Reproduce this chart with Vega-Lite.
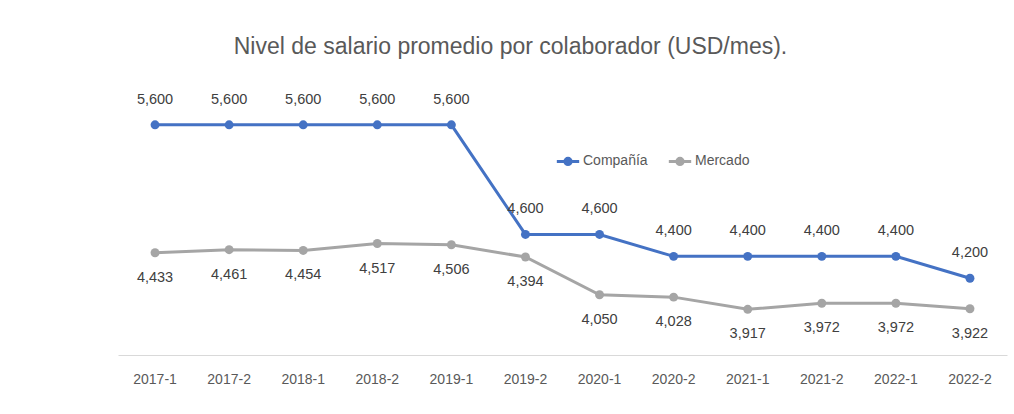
{
  "$schema": "https://vega.github.io/schema/vega-lite/v6.json",
  "autosize": {"type": "none"},
  "width": 889,
  "height": 274,
  "padding": {"left": 118, "top": 81, "right": 7, "bottom": 59},
  "background": "white",
  "config": {"view": {"stroke": null}, "font": "Liberation Sans"},
  "title": {
    "text": "Nivel de salario promedio por colaborador (USD/mes).",
    "fontSize": 23,
    "fontWeight": "normal",
    "color": "#595959",
    "font": "Liberation Sans",
    "anchor": "middle",
    "dx": -52,
    "offset": 22
  },
  "data": {
    "values": [
      {"periodo": "2017-1", "serie": "Compañía", "valor": 5600},
      {"periodo": "2017-2", "serie": "Compañía", "valor": 5600},
      {"periodo": "2018-1", "serie": "Compañía", "valor": 5600},
      {"periodo": "2018-2", "serie": "Compañía", "valor": 5600},
      {"periodo": "2019-1", "serie": "Compañía", "valor": 5600},
      {"periodo": "2019-2", "serie": "Compañía", "valor": 4600},
      {"periodo": "2020-1", "serie": "Compañía", "valor": 4600},
      {"periodo": "2020-2", "serie": "Compañía", "valor": 4400},
      {"periodo": "2021-1", "serie": "Compañía", "valor": 4400},
      {"periodo": "2021-2", "serie": "Compañía", "valor": 4400},
      {"periodo": "2022-1", "serie": "Compañía", "valor": 4400},
      {"periodo": "2022-2", "serie": "Compañía", "valor": 4200},
      {"periodo": "2017-1", "serie": "Mercado", "valor": 4433},
      {"periodo": "2017-2", "serie": "Mercado", "valor": 4461},
      {"periodo": "2018-1", "serie": "Mercado", "valor": 4454},
      {"periodo": "2018-2", "serie": "Mercado", "valor": 4517},
      {"periodo": "2019-1", "serie": "Mercado", "valor": 4506},
      {"periodo": "2019-2", "serie": "Mercado", "valor": 4394},
      {"periodo": "2020-1", "serie": "Mercado", "valor": 4050},
      {"periodo": "2020-2", "serie": "Mercado", "valor": 4028},
      {"periodo": "2021-1", "serie": "Mercado", "valor": 3917},
      {"periodo": "2021-2", "serie": "Mercado", "valor": 3972},
      {"periodo": "2022-1", "serie": "Mercado", "valor": 3972},
      {"periodo": "2022-2", "serie": "Mercado", "valor": 3922}
    ]
  },
  "encoding": {
    "x": {
      "field": "periodo",
      "type": "ordinal",
      "sort": null,
      "scale": {"paddingInner": 0, "paddingOuter": 0, "type": "band"},
      "axis": {
        "title": null,
        "labelAngle": 0,
        "ticks": false,
        "grid": false,
        "domainColor": "#D9D9D9",
        "domainWidth": 1,
        "labelColor": "#595959",
        "labelFontSize": 14,
        "labelFont": "Liberation Sans",
        "labelPadding": 17
      }
    },
    "y": {
      "field": "valor",
      "type": "quantitative",
      "scale": {"domain": [3500, 6000], "zero": false, "nice": false},
      "axis": null
    }
  },
  "layer": [
    {
      "mark": {"type": "line", "strokeWidth": 3, "point": {"size": 80, "filled": true}},
      "encoding": {
        "x": {"field": "periodo", "type": "ordinal", "sort": null, "bandPosition": 0.5},
        "color": {
          "field": "serie",
          "type": "nominal",
          "scale": {"domain": ["Compañía", "Mercado"], "range": ["#4472C4", "#A5A5A5"]},
          "legend": {
            "title": null,
            "orient": "none",
            "direction": "horizontal",
            "legendX": 437,
            "legendY": 67,
            "labelFontSize": 14,
            "labelColor": "#595959",
            "labelFont": "Liberation Sans",
            "symbolType": "M -1 0 L 1 0 M -0.28 0 A 0.28 0.28 0 1 0 0.28 0 A 0.28 0.28 0 1 0 -0.28 0 Z",
            "symbolSize": 500,
            "symbolStrokeWidth": 3,
            "labelOffset": 2,
            "columnPadding": 14
          }
        }
      }
    },
    {
      "transform": [{"filter": "datum.serie === 'Compañía'"}],
      "mark": {"type": "text", "dy": -25, "fontSize": 14.5, "color": "#404040", "font": "Liberation Sans"},
      "encoding": {
        "x": {"field": "periodo", "type": "ordinal", "sort": null, "bandPosition": 0.5},
        "text": {"field": "valor", "type": "quantitative", "format": ","}
      }
    },
    {
      "transform": [{"filter": "datum.serie === 'Mercado'"}],
      "mark": {"type": "text", "dy": 25, "fontSize": 14.5, "color": "#404040", "font": "Liberation Sans"},
      "encoding": {
        "x": {"field": "periodo", "type": "ordinal", "sort": null, "bandPosition": 0.5},
        "text": {"field": "valor", "type": "quantitative", "format": ","}
      }
    }
  ]
}
